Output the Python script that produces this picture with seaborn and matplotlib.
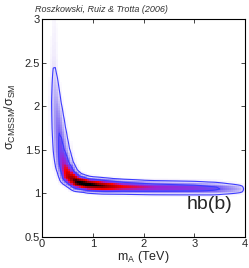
import numpy as np
import matplotlib
matplotlib.use('Agg')
import matplotlib.pyplot as plt
from matplotlib.colors import LinearSegmentedColormap
import seaborn as sns

# ridge of the posterior (mA in TeV, cross-section ratio)
ridge_mA = [0.25, 0.24, 0.24, 0.28, 0.33, 0.38, 0.44, 0.53, 0.68, 0.90, 1.20, 1.60, 2.20, 3.00, 3.40, 3.90]
ridge_ratio = [3.00, 2.60, 2.45, 2.05, 1.75, 1.50, 1.33, 1.20, 1.13, 1.10, 1.085, 1.075, 1.065, 1.06, 1.055, 1.05]
ridge_peak = [0.02, 0.04, 0.06, 0.14, 0.23, 0.30, 0.45, 0.70, 0.92, 1.00, 0.85, 0.55, 0.42, 0.35, 0.28, 0.12]
ridge_width = [2.0, 2.5, 2.5, 3.5, 4.0, 4.5, 4.5, 4.5, 4.0, 3.5, 3.5, 3.5, 3.5, 3.5, 3.5, 3.0]  # in pixels

x_ticks = [0, 1, 2, 3, 4]
y_ticks = [0.5, 1, 1.5, 2, 2.5, 3]

# pixels per unit on each axis, so the tube widths come out right
px_x, px_y = 51.0, 87.2

x_edges = np.arange(0, 4.0001, 0.04)
y_edges = np.arange(0.5, 3.0001, 0.02)
xc = 0.5 * (x_edges[:-1] + x_edges[1:])
yc = 0.5 * (y_edges[:-1] + y_edges[1:])
X, Y = np.meshgrid(xc, yc, indexing='ij')

# density = tube around the ridge polyline
D = np.zeros_like(X)
for i in range(len(ridge_mA) - 1):
    x0, y0 = ridge_mA[i] * px_x, ridge_ratio[i] * px_y
    x1, y1 = ridge_mA[i + 1] * px_x, ridge_ratio[i + 1] * px_y
    dx, dy = x1 - x0, y1 - y0
    qx, qy = X * px_x - x0, Y * px_y - y0
    t = np.clip((qx * dx + qy * dy) / (dx * dx + dy * dy), 0, 1)
    d2 = (qx - t * dx) ** 2 + (qy - t * dy) ** 2
    w = ridge_peak[i] + t * (ridge_peak[i + 1] - ridge_peak[i])
    s = ridge_width[i] + t * (ridge_width[i + 1] - ridge_width[i])
    D = np.maximum(D, w * np.exp(-d2 / (2 * s * s)))
D[D < 0.01] = 0

# credible region levels
flat = np.sort(D.ravel())[::-1]
cum = np.cumsum(flat) / flat.sum()
lev68 = flat[np.searchsorted(cum, 0.68)]
lev95 = flat[np.searchsorted(cum, 0.95)]

cmap = LinearSegmentedColormap.from_list('post', [
    (0.00, '#ffffff'), (0.05, '#ece6fb'), (0.15, '#a89cf5'), (0.28, '#6a4cf5'),
    (0.42, '#a020d0'), (0.56, '#ff0000'), (0.80, '#900000'), (0.95, '#000000'),
    (1.00, '#000000')])

sns.set_style('ticks')
plt.rcParams['font.family'] = ['Liberation Sans', 'DejaVu Sans']
plt.rcParams['mathtext.fontset'] = 'custom'
plt.rcParams['mathtext.rm'] = 'Liberation Sans'

fig = plt.figure(figsize=(2.49, 2.68), dpi=100)
ax = fig.add_axes([0.169, 0.116, 0.815, 0.813])

sns.histplot(x=X.ravel(), y=Y.ravel(), weights=D.ravel(), bins=[x_edges, y_edges],
             cmap=cmap, ax=ax)
ax.contour(xc, yc, D.T, levels=[lev95, lev68], colors='#3c3cff', linewidths=0.8)

ax.set_xlim(0, 4)
ax.set_ylim(0.5, 3)
ax.set_xticks(x_ticks)
ax.set_yticks(y_ticks)
ax.set_xticklabels([f'{v:g}' for v in x_ticks])
ax.set_yticklabels([f'{v:g}' for v in y_ticks])
ax.tick_params(direction='in', top=True, right=True, length=3, width=0.6,
               labelsize=8, pad=1.5)
for sp in ax.spines.values():
    sp.set_linewidth(0.8)
    sp.set_color('black')

ax.set_xlabel(r'm$_{\rm A}$ (TeV)', fontsize=9, labelpad=0)
ax.set_ylabel(r'σ$_{\rm CMSSM}$/σ$_{\rm SM}$', fontsize=9, labelpad=1)
ax.yaxis.set_label_coords(-0.12, 0.55)
ax.text(3.75, 0.87, 'hb(b)', fontsize=14, ha='right', va='center')
fig.text(0.14, 0.965, 'Roszkowski, Ruiz & Trotta (2006)', fontsize=6.5,
         style='italic', color='#333333', va='center')

fig.savefig('out.png', dpi=100)
